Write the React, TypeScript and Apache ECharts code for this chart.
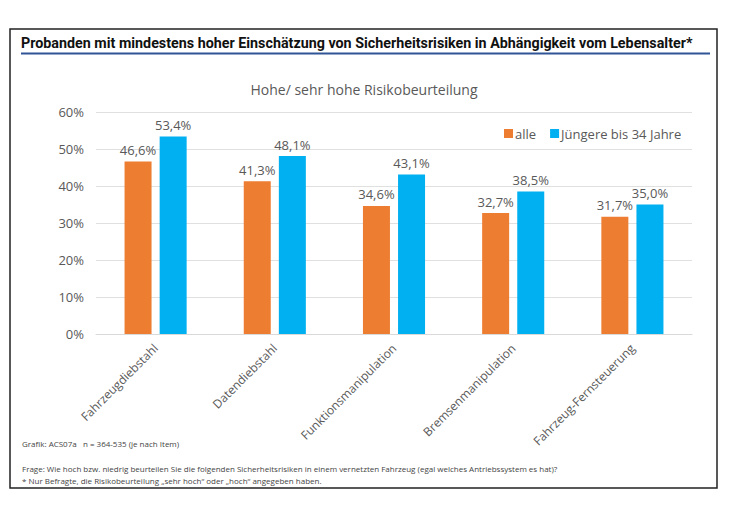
import React, { useEffect, useRef } from "react";
import * as echarts from "echarts";

const categories = ["Fahrzeugdiebstahl", "Datendiebstahl", "Funktionsmanipulation", "Bremsenmanipulation", "Fahrzeug-Fernsteuerung"];
const alle = [46.6, 41.3, 34.6, 32.7, 31.7];
const juengere = [53.4, 48.1, 43.1, 38.5, 35.0];
const seriesNames = ["alle", "Jüngere bis 34 Jahre"];
const mainTitle = "Probanden mit mindestens hoher Einschätzung von Sicherheitsrisiken in Abhängigkeit vom Lebensalter*";
const chartTitle = "Hohe/ sehr hohe Risikobeurteilung";
const source = "Grafik: ACS07a   n = 364-535 (je nach Item)";
const note1 = "Frage: Wie hoch bzw. niedrig beurteilen Sie die folgenden Sicherheitsrisiken in einem vernetzten Fahrzeug (egal welches Antriebssystem es hat)?";
const note2 = "* Nur Befragte, die Risikobeurteilung „sehr hoch“ oder „hoch“ angegeben haben.";

const FONT = "'Open Sans', 'Noto Sans', sans-serif";
const TITLE_FONT = "Roboto, 'Open Sans', sans-serif";
const GRAY = "#595959";

export default function App() {
  const ref = useRef<HTMLDivElement>(null);
  useEffect(() => {
    if (!ref.current) return;
    const chart = echarts.init(ref.current, null, { renderer: "svg" });
    const fmt = (p: any) => p.value.toFixed(1).replace(".", ",") + "%";
    chart.setOption({
      animation: false,
      backgroundColor: "#ffffff",
      textStyle: { fontFamily: FONT },
      grid: { left: 96, right: 38, top: 112, bottom: 178 },
      legend: {
        data: seriesNames,
        left: 499,
        top: 122,
        itemWidth: 9,
        itemHeight: 9,
        itemGap: 14,
        icon: "rect",
        textStyle: { color: GRAY, fontSize: 13, fontFamily: FONT, padding: [0, 0, 0, -3] },
      },
      xAxis: {
        type: "category",
        data: categories,
        axisLine: { show: true, lineStyle: { color: "#d9d9d9" } },
        axisTick: { show: false },
        axisLabel: { rotate: 45, color: GRAY, fontSize: 12, fontFamily: FONT, margin: 12, interval: 0 },
      },
      yAxis: {
        type: "value",
        min: 0,
        max: 60,
        interval: 10,
        axisLine: { show: false },
        axisTick: { show: false },
        splitLine: { lineStyle: { color: "#e0e0e0" } },
        axisLabel: { formatter: "{value}%", color: GRAY, fontSize: 13, fontFamily: FONT, margin: 12 },
      },
      series: [
        {
          name: seriesNames[0],
          type: "bar",
          data: alle,
          itemStyle: { color: "#ED7D31" },
          barWidth: 27,
          barGap: "30%",
          label: { show: true, position: "top", formatter: fmt, color: GRAY, fontSize: 13, fontFamily: FONT, distance: 5 },
        },
        {
          name: seriesNames[1],
          type: "bar",
          data: juengere,
          itemStyle: { color: "#00B0F0" },
          barWidth: 27,
          barGap: "30%",
          label: { show: true, position: "top", formatter: fmt, color: GRAY, fontSize: 13, fontFamily: FONT, distance: 5 },
        },
      ],
      graphic: [
        { type: "rect", shape: { x: 10, y: 29, width: 707, height: 459 }, style: { fill: "none", stroke: "#222", lineWidth: 1.5 }, silent: true },
        { type: "text", x: 21, y: 42.5, style: { text: mainTitle, fill: "#111", font: `bold 14.3px ${TITLE_FONT}`, textVerticalAlign: "middle" } },
        { type: "line", shape: { x1: 21, y1: 53.5, x2: 710, y2: 53.5 }, style: { stroke: "#2F5597", lineWidth: 2 } },
        { type: "text", x: 364, y: 89, style: { text: chartTitle, fill: GRAY, font: `14px ${FONT}`, textAlign: "center", textVerticalAlign: "middle" } },
        { type: "text", x: 22, y: 443, style: { text: source, fill: "#444", font: `8px ${FONT}`, textVerticalAlign: "middle" } },
        { type: "text", x: 22, y: 468, style: { text: note1, fill: "#444", font: `8px ${FONT}`, textVerticalAlign: "middle" } },
        { type: "text", x: 22, y: 480, style: { text: note2, fill: "#444", font: `8px ${FONT}`, textVerticalAlign: "middle" } },
      ],
    });
    return () => chart.dispose();
  }, []);
  return <div ref={ref} style={{ position: "fixed", left: 0, top: 0, width: 730, height: 512 }} />;
}
